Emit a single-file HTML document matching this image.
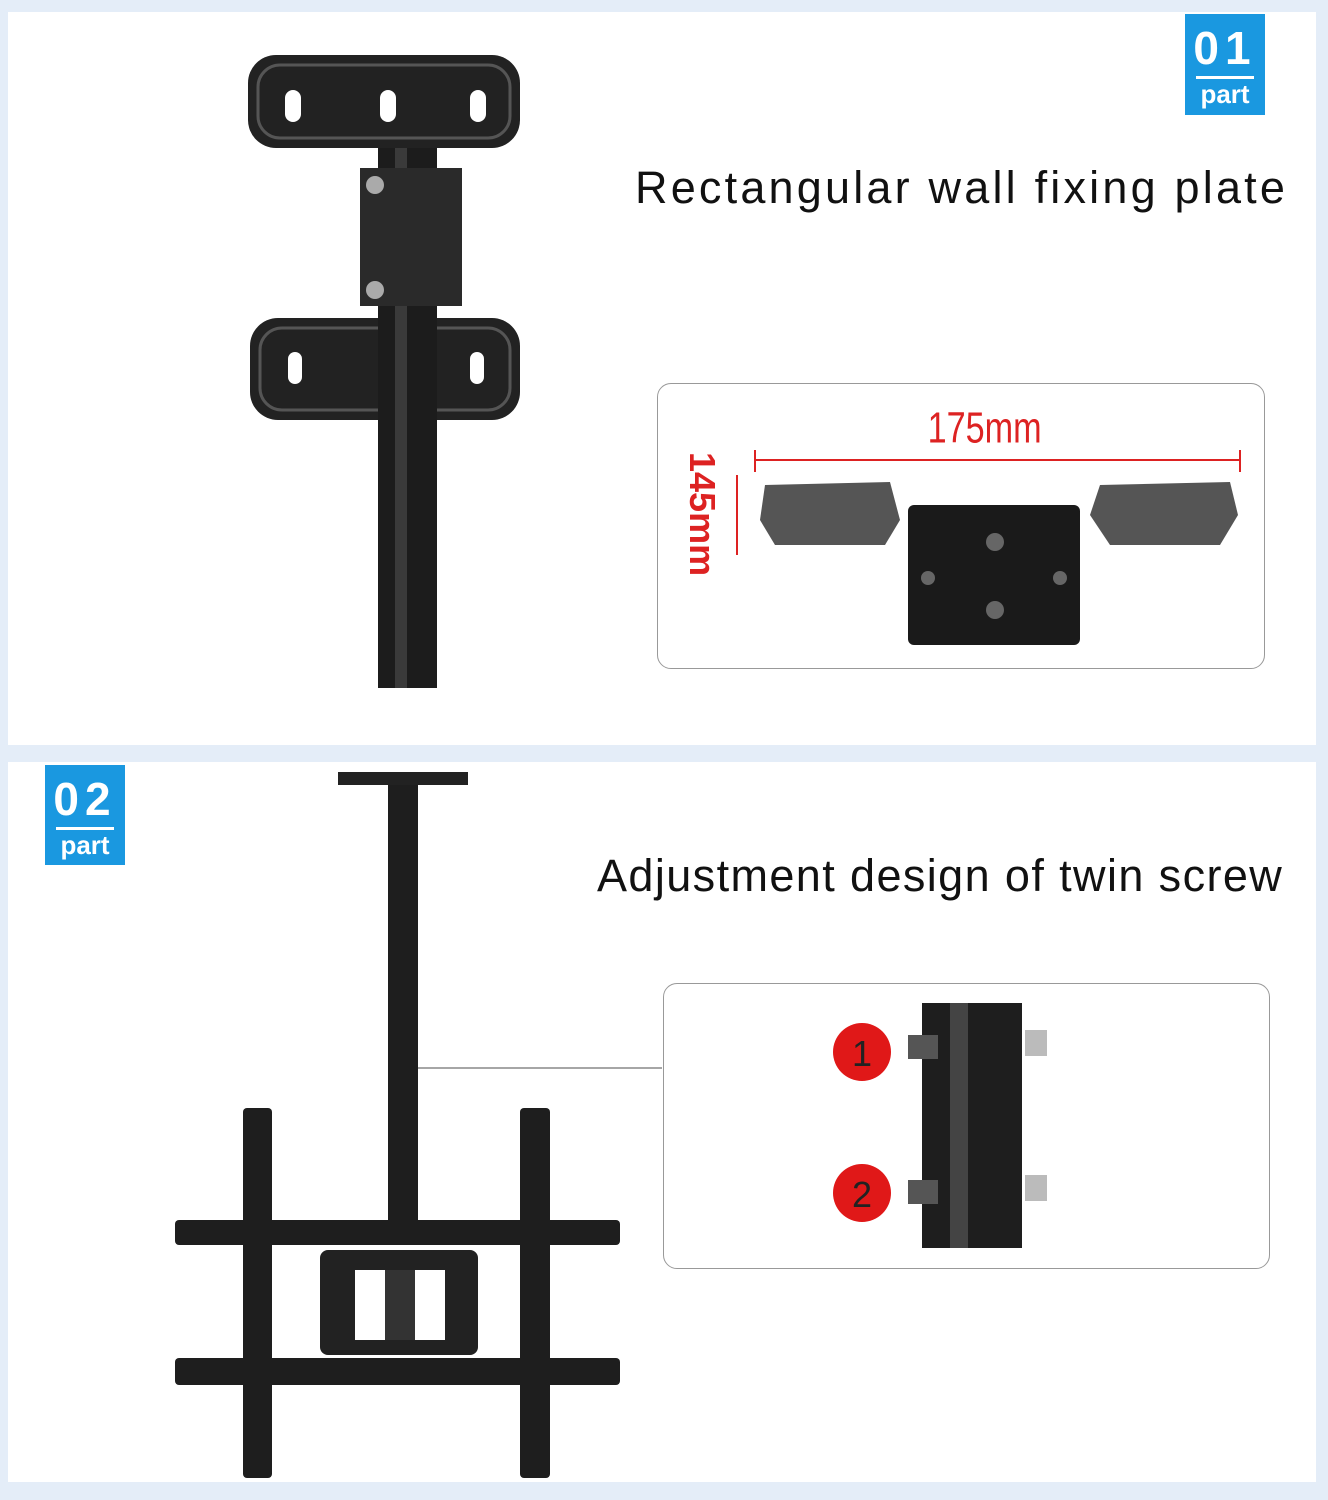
<!DOCTYPE html>
<html><head><meta charset="utf-8"><style>
body{margin:0;width:1328px;height:1500px;background:#e4edf8;position:relative;overflow:hidden;font-family:"Liberation Sans",sans-serif}
.p{position:absolute;background:#fff}
.badge{position:absolute;background:#1a98e0;color:#fff;text-align:center;font-weight:bold}
.badge .n{font-size:46px;line-height:56px;letter-spacing:6px;margin-top:6px}
.badge .l{width:58px;height:3px;background:#fff;margin:0 auto}
.badge .t{font-size:26px;line-height:30px}
.title{position:absolute;font-size:45px;color:#111;white-space:nowrap}
.box{position:absolute;border:1.5px solid #999;border-radius:14px;background:#fff}
</style></head><body>
<div class="p" style="left:8px;top:12px;width:1308px;height:733px"></div>
<div class="p" style="left:8px;top:762px;width:1308px;height:720px"></div>
<div class="badge" style="left:1185px;top:14px;width:80px;height:101px"><div class="n">01</div><div class="l"></div><div class="t">part</div></div>
<div class="badge" style="left:45px;top:765px;width:80px;height:100px"><div class="n">02</div><div class="l"></div><div class="t">part</div></div>
<div class="title" style="left:635px;top:162px;letter-spacing:3.2px">Rectangular wall fixing plate</div>
<div class="title" style="left:597px;top:850px;letter-spacing:1.4px">Adjustment design of twin screw</div>
<div class="box" style="left:657px;top:383px;width:606px;height:284px"></div>
<div class="box" style="left:663px;top:983px;width:605px;height:284px"></div>
<svg width="1328" height="1500" style="position:absolute;left:0;top:0">
<rect x="248" y="55" width="272" height="93" rx="28" fill="#222"/>
<rect x="258" y="65" width="252" height="73" rx="22" fill="none" stroke="#555" stroke-width="3"/>
<rect x="285" y="90" width="16" height="32" rx="8" fill="#fff"/><rect x="380" y="90" width="16" height="32" rx="8" fill="#fff"/><rect x="470" y="90" width="16" height="32" rx="8" fill="#fff"/>
<rect x="250" y="318" width="270" height="102" rx="28" fill="#222"/>
<rect x="260" y="328" width="250" height="82" rx="22" fill="none" stroke="#555" stroke-width="3"/>
<rect x="288" y="352" width="14" height="32" rx="7" fill="#fff"/><rect x="470" y="352" width="14" height="32" rx="7" fill="#fff"/>
<rect x="378" y="148" width="59" height="540" fill="#1c1c1c"/>
<rect x="395" y="148" width="12" height="540" fill="#3a3a3a"/>
<rect x="360" y="168" width="102" height="138" fill="#2a2a2a"/>
<circle cx="375" cy="185" r="9" fill="#aaa"/><circle cx="375" cy="290" r="9" fill="#aaa"/>
<text x="985" y="447" font-size="38" fill="#d22" text-anchor="middle" font-family="Liberation Sans Narrow,Liberation Sans" transform="scale(0.9,1.15) translate(109,-62)">175mm</text>
<line x1="755" y1="460" x2="1240" y2="460" stroke="#d22" stroke-width="2"/>
<line x1="755" y1="450" x2="755" y2="472" stroke="#d22" stroke-width="2"/><line x1="1240" y1="450" x2="1240" y2="472" stroke="#d22" stroke-width="2"/>
<line x1="737" y1="475" x2="737" y2="555" stroke="#d22" stroke-width="2"/>
<text x="0" y="0" font-size="36" fill="#d22" font-weight="bold" transform="translate(690,452) rotate(90)">145mm</text>
<path d="M765 485 L890 482 L900 520 L885 545 L775 545 L760 520Z" fill="#555"/>
<path d="M1100 485 L1230 482 L1238 515 L1220 545 L1110 545 L1090 515Z" fill="#555"/>
<rect x="908" y="505" width="172" height="140" rx="6" fill="#1a1a1a"/>
<circle cx="995" cy="542" r="9" fill="#666"/><circle cx="995" cy="610" r="9" fill="#666"/><circle cx="928" cy="578" r="7" fill="#666"/><circle cx="1060" cy="578" r="7" fill="#666"/>
<rect x="338" y="772" width="130" height="13" fill="#222"/>
<rect x="388" y="785" width="30" height="435" fill="#1e1e1e"/>
<line x1="418" y1="1068" x2="662" y2="1068" stroke="#888" stroke-width="1.5"/>
<rect x="175" y="1220" width="445" height="25" rx="4" fill="#1e1e1e"/>
<rect x="175" y="1358" width="445" height="27" rx="4" fill="#1e1e1e"/>
<rect x="243" y="1108" width="29" height="370" rx="4" fill="#1e1e1e"/>
<rect x="520" y="1108" width="30" height="370" rx="4" fill="#1e1e1e"/>
<rect x="320" y="1250" width="158" height="105" rx="8" fill="#222"/>
<rect x="355" y="1270" width="90" height="70" fill="#fff"/>
<rect x="385" y="1270" width="30" height="70" fill="#333"/>
<rect x="922" y="1003" width="100" height="245" fill="#1e1e1e"/>
<rect x="950" y="1003" width="18" height="245" fill="#444"/>
<rect x="908" y="1035" width="30" height="24" fill="#555"/><rect x="1025" y="1030" width="22" height="26" fill="#bbb"/>
<rect x="908" y="1180" width="30" height="24" fill="#555"/><rect x="1025" y="1175" width="22" height="26" fill="#bbb"/>
<circle cx="862" cy="1052" r="29" fill="#e01818"/><circle cx="862" cy="1193" r="29" fill="#e01818"/>
<text x="862" y="1066" font-size="36" fill="#222" text-anchor="middle">1</text>
<text x="862" y="1207" font-size="36" fill="#222" text-anchor="middle">2</text>
</svg>
</body></html>
